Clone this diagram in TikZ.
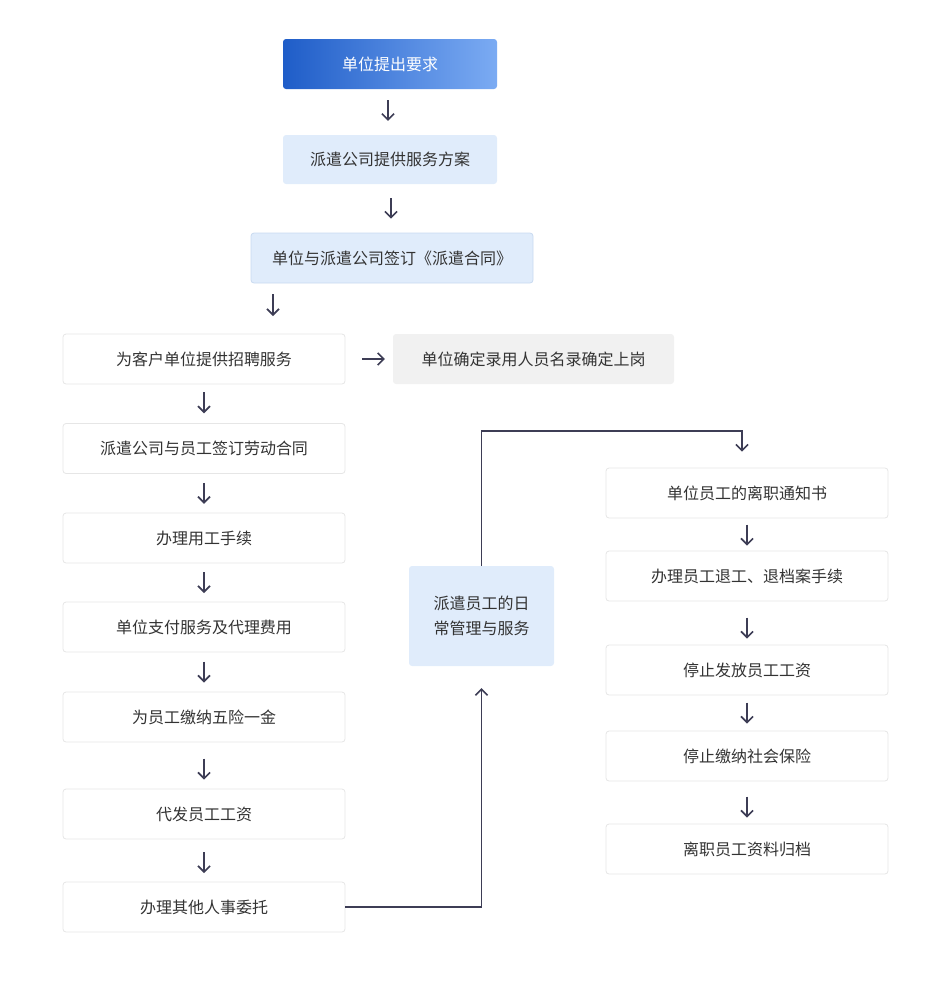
\documentclass[tikz,border=0pt]{standalone}
\usepackage{fontspec}
\newfontfamily\cjk{Noto Sans CJK SC}
\usetikzlibrary{arrows.meta,calc}
\definecolor{txt}{HTML}{333333}
\definecolor{arrc}{HTML}{3D3D55}
\definecolor{lblue}{HTML}{E0ECFB}
\definecolor{lbord}{HTML}{C9DAF0}
\definecolor{wbord}{HTML}{E6E6E6}
\definecolor{gfill}{HTML}{F1F1F1}
\definecolor{gradL}{HTML}{1F5DC8}
\definecolor{gradR}{HTML}{7BABF3}
\tikzset{
  box/.style={rounded corners=3pt, minimum height=50pt, inner sep=0pt, align=center,
    font=\cjk\fontsize{16}{25}\selectfont, text=txt},
  wbox/.style={box, draw=wbord, line width=0.8pt, fill=white, minimum width=282pt},
  bbox/.style={box, fill=lblue},
  arr/.style={draw=arrc, line width=1.6pt, -{Straight Barb[length=6pt,width=12pt,line width=1.6pt]}},
}
\begin{document}
\begin{tikzpicture}[x=1pt,y=-1pt]
\useasboundingbox (0,0) rectangle (952,1005);
% top chain
\node[box, minimum width=214pt, left color=gradL, right color=gradR, text=white] (b1) at (390,64) {单位提出要求};
\node[bbox, minimum width=214pt, minimum height=49pt] (b2) at (390,159.5) {派遣公司提供服务方案};
\node[bbox, draw=lbord, line width=0.8pt, minimum width=282pt] (b3) at (392,258) {单位与派遣公司签订《派遣合同》};
% left column
\node[wbox] (l1) at (204,359) {为客户单位提供招聘服务};
\node[box, fill=gfill, minimum width=281pt] (r0) at (533.5,359) {单位确定录用人员名录确定上岗};
\node[wbox] (l2) at (204,448.5) {派遣公司与员工签订劳动合同};
\node[wbox] (l3) at (204,538) {办理用工手续};
\node[wbox] (l4) at (204,627) {单位支付服务及代理费用};
\node[wbox] (l5) at (204,717) {为员工缴纳五险一金};
\node[wbox] (l6) at (204,814) {代发员工工资};
\node[wbox] (l7) at (204,907) {办理其他人事委托};
% middle
\node[bbox, minimum width=145pt, minimum height=100pt] (m) at (481.5,616) {派遣员工的日\\常管理与服务};
% right column
\node[wbox] (r1) at (747,493) {单位员工的离职通知书};
\node[wbox] (r2) at (747,576) {办理员工退工、退档案手续};
\node[wbox] (r3) at (747,670) {停止发放员工工资};
\node[wbox] (r4) at (747,756) {停止缴纳社会保险};
\node[wbox] (r5) at (747,849) {离职员工资料归档};
% arrows top
\draw[arr] ([xshift=-2pt,yshift=-11pt]b1.south) -- ([xshift=-2pt,yshift=14pt]b2.north);
\draw[arr] ([xshift=1pt,yshift=-14pt]b2.south) -- ([xshift=-1pt,yshift=14pt]b3.north);
\coordinate (a3s) at (273,294);
\coordinate (a3e) at (273,316);
\draw[arr] (a3s) -- (a3e);
\draw[arr] ([xshift=17pt]l1.east) -- ([xshift=-8pt]r0.west);
% left arrows
\foreach \a/\b/\d in {l1/l2/-1,l2/l3/0,l3/l4/0,l4/l5/0,l5/l6/3.5,l6/l7/2}{
  \draw[arr] ($(\a.south)!0.5!(\b.north)+(0,\d-10.5)$) -- ++(0,21);
}
% right arrows
\foreach \a/\b/\d in {r1/r2/0.5,r2/r3/5,r3/r4/0,r4/r5/4.5}{
  \draw[arr] ($(\a.south)!0.5!(\b.north)+(0,\d-10.5)$) -- ++(0,21);
}
% connectors
\draw[arr] (l7.east) -| ([yshift=-22pt]m.south);
\draw[arr] (m.north) |- (742,431) -- ([xshift=-5pt,yshift=16pt]r1.north);
\end{tikzpicture}
\end{document}
